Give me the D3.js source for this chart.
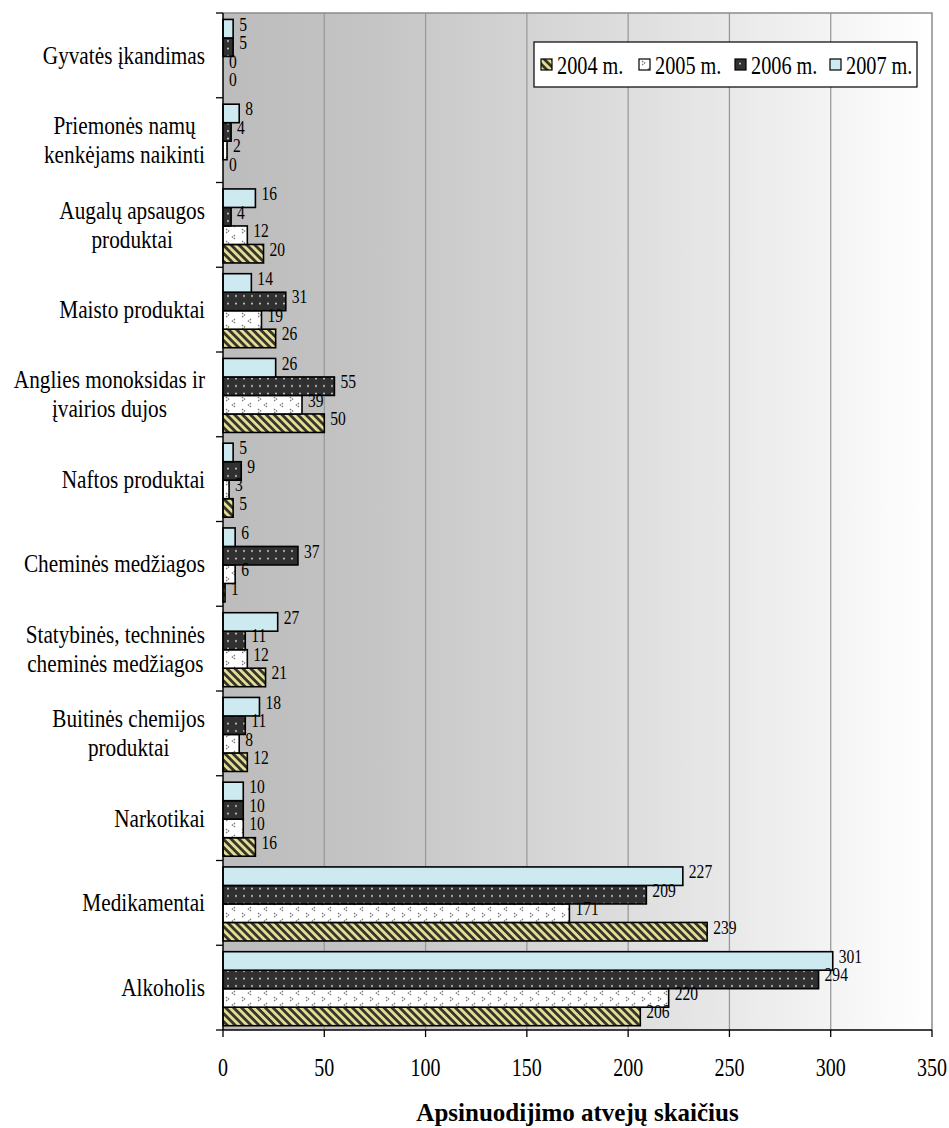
<!DOCTYPE html>
<html>
<head>
<meta charset="utf-8">
<script src="https://cdn.jsdelivr.net/npm/d3@7"></script>
<style>
  html, body { margin: 0; padding: 0; background: #ffffff; }
  svg { display: block; }
  svg text { font-family: "Times New Roman", "Liberation Serif", Tinos, "DejaVu Serif", serif; }
</style>
</head>
<body>
<svg id="chart" width="949" height="1128"></svg>
<script>
// Poisoning cases by cause, 2004–2007
const categories = [
  "Gyvatės įkandimas",
  "Priemonės namų\nkenkėjams naikinti",
  "Augalų apsaugos\nproduktai",
  "Maisto produktai",
  "Anglies monoksidas ir\nįvairios dujos",
  "Naftos produktai",
  "Cheminės medžiagos",
  "Statybinės, techninės\ncheminės medžiagos",
  "Buitinės chemijos\nproduktai",
  "Narkotikai",
  "Medikamentai",
  "Alkoholis"
];
const years = ["2004 m.", "2005 m.", "2006 m.", "2007 m."];
const values2004 = [0, 0, 20, 26, 50, 5, 1, 21, 12, 16, 239, 206];
const values2005 = [0, 2, 12, 19, 39, 3, 6, 12, 8, 10, 171, 220];
const values2006 = [5, 4, 4, 31, 55, 9, 37, 11, 11, 10, 209, 294];
const values2007 = [5, 8, 16, 14, 26, 5, 6, 27, 18, 10, 227, 301];
const xTicks = [0, 50, 100, 150, 200, 250, 300, 350];
const xTitle = "Apsinuodijimo atvejų skaičius";

const seriesValues = [values2004, values2005, values2006, values2007];

const svg = d3.select("#chart");
const plot = { left: 223, right: 932, top: 13, bottom: 1030 };

const x = d3.scaleLinear().domain([0, 350]).range([plot.left, plot.right]);
const y0 = d3.scaleBand().domain(categories).range([plot.top, plot.bottom]).padding(0);
// within a category the newest year is on top
const y1 = d3.scaleBand().domain([...years].reverse())
  .range([0, y0.bandwidth()]).paddingInner(0).paddingOuter(0.29).align(0.6);

// ---- fills ----
const defs = svg.append("defs");

const grad = defs.append("linearGradient").attr("id", "bg")
  .attr("x1", "0%").attr("x2", "100%").attr("y1", "0%").attr("y2", "0%");
grad.append("stop").attr("offset", "0%").attr("stop-color", "#bcbcbc");
grad.append("stop").attr("offset", "20%").attr("stop-color", "#c4c4c4");
grad.append("stop").attr("offset", "55%").attr("stop-color", "#dcdcdc");
grad.append("stop").attr("offset", "100%").attr("stop-color", "#ffffff");

// 2004: diagonal yellow / dark stripes
const p04 = defs.append("pattern").attr("id", "p2004")
  .attr("patternUnits", "userSpaceOnUse").attr("width", 5.6).attr("height", 5.6)
  .attr("patternTransform", "rotate(-45)");
p04.append("rect").attr("width", 5.6).attr("height", 5.6).attr("fill", "#e4de95");
p04.append("rect").attr("width", 2.8).attr("height", 5.6).attr("fill", "#35352c");

// 2005: white with small grey chevrons
const p05 = defs.append("pattern").attr("id", "p2005")
  .attr("patternUnits", "userSpaceOnUse").attr("width", 16).attr("height", 12);
p05.append("rect").attr("width", 16).attr("height", 12).attr("fill", "#ffffff");
p05.append("path").attr("d", "M2,1 L4.5,3 L2,5 M11,7 L8.5,9 L11,11")
  .attr("fill", "none").attr("stroke", "#7a7a7a").attr("stroke-width", 1.4)
  .attr("stroke-dasharray", "1.5 0.9");

// 2006: dark with white dots
const p06 = defs.append("pattern").attr("id", "p2006")
  .attr("patternUnits", "userSpaceOnUse").attr("width", 8).attr("height", 7.5);
p06.append("rect").attr("width", 8).attr("height", 7.5).attr("fill", "#303030");
p06.append("circle").attr("cx", 4).attr("cy", 3.5).attr("r", 1).attr("fill", "#dcdcdc");

const fills = {
  "2004 m.": "url(#p2004)",
  "2005 m.": "url(#p2005)",
  "2006 m.": "url(#p2006)",
  "2007 m.": "#cdeaf0"
};

// ---- plot background and grid ----
svg.append("rect")
  .attr("x", plot.left).attr("y", plot.top)
  .attr("width", plot.right - plot.left).attr("height", plot.bottom - plot.top)
  .attr("fill", "url(#bg)");

svg.append("g").selectAll("line")
  .data(xTicks.filter(d => d > 0 && d < 350))
  .join("line")
  .attr("x1", d => x(d)).attr("x2", d => x(d))
  .attr("y1", plot.top).attr("y2", plot.bottom)
  .attr("stroke", "#9a9a9a").attr("stroke-width", 1.3);

// top and right frame
svg.append("path")
  .attr("d", `M${plot.left},${plot.top}H${plot.right}V${plot.bottom}`)
  .attr("fill", "none").attr("stroke", "#8c8c8c").attr("stroke-width", 1.5);

// ---- bars ----
const rows = [];
categories.forEach((c, i) => {
  years.forEach((yr, s) => rows.push({ cat: c, year: yr, value: seriesValues[s][i] }));
});

const barG = svg.append("g");
barG.selectAll("rect")
  .data(rows.filter(d => d.value > 0))
  .join("rect")
  .attr("x", x(0))
  .attr("y", d => y0(d.cat) + y1(d.year))
  .attr("width", d => x(d.value) - x(0))
  .attr("height", y1.bandwidth())
  .attr("fill", d => fills[d.year])
  .attr("stroke", "#000").attr("stroke-width", 1.6);

// condensed serif text helper
function label(g, txt, tx, ty, size, sx, anchor, weight) {
  return g.append("text")
    .attr("transform", `translate(${tx},${ty}) scale(${sx},1)`)
    .attr("font-size", size)
    .attr("font-weight", weight || "normal")
    .attr("text-anchor", anchor)
    .attr("dominant-baseline", "central")
    .attr("fill", "#000")
    .text(txt);
}

// value labels, sitting slightly above the bar centre
const valG = svg.append("g");
rows.forEach(d => {
  const yc = y0(d.cat) + y1(d.year) + y1.bandwidth() / 2 - 4;
  label(valG, String(d.value), x(d.value) + 6, yc, 19, 0.82, "start");
});

// ---- axes ----
const axG = svg.append("g");
axG.append("line")
  .attr("x1", plot.left).attr("x2", plot.left)
  .attr("y1", plot.top).attr("y2", plot.bottom)
  .attr("stroke", "#000").attr("stroke-width", 1.5);
const bounds = categories.map(c => y0(c)).concat([plot.bottom]);
axG.selectAll("line.yt").data(bounds).join("line").attr("class", "yt")
  .attr("x1", plot.left - 7).attr("x2", plot.left)
  .attr("y1", d => d).attr("y2", d => d)
  .attr("stroke", "#000").attr("stroke-width", 1.3);

axG.append("line")
  .attr("x1", plot.left).attr("x2", plot.right)
  .attr("y1", plot.bottom).attr("y2", plot.bottom)
  .attr("stroke", "#000").attr("stroke-width", 1.5);
axG.selectAll("line.xt").data(xTicks).join("line").attr("class", "xt")
  .attr("x1", d => x(d)).attr("x2", d => x(d))
  .attr("y1", plot.bottom).attr("y2", plot.bottom + 7)
  .attr("stroke", "#000").attr("stroke-width", 1.3);

xTicks.forEach(t => label(axG, String(t), x(t), 1068, 25, 0.8, "middle"));

label(axG, xTitle, (plot.left + plot.right) / 2, 1112, 25, 1.0, "middle", "bold");

// category labels: lines centred on each other, block right-aligned
const catG = svg.append("g");
const catRight = 205, catSize = 25, catSx = 0.85, lineGap = 29;
categories.forEach(c => {
  const lines = c.split("\n");
  const cy = y0(c) + y0.bandwidth() / 2;
  const nodes = lines.map((ln, k) =>
    label(catG, ln, 0, cy + (k - (lines.length - 1) / 2) * lineGap, catSize, catSx, "middle"));
  const widths = nodes.map(n => n.node().getComputedTextLength() * catSx);
  const maxW = Math.max(...widths);
  const cx = catRight - maxW / 2;
  nodes.forEach((n, k) => {
    const ty = cy + (k - (lines.length - 1) / 2) * lineGap;
    n.attr("transform", `translate(${cx},${ty}) scale(${catSx},1)`);
  });
});

// ---- legend ----
const lg = svg.append("g");
lg.append("rect").attr("x", 534).attr("y", 42).attr("width", 383).attr("height", 45)
  .attr("fill", "#ffffff").attr("stroke", "#000").attr("stroke-width", 1.2);
const legendX = [541, 639, 735, 830];
years.forEach((yr, i) => {
  lg.append("rect").attr("x", legendX[i]).attr("y", 59).attr("width", 11).attr("height", 11)
    .attr("fill", fills[yr]).attr("stroke", "#000").attr("stroke-width", 1.2);
  label(lg, yr, legendX[i] + 16, 65, 26, 0.78, "start");
});
</script>
</body>
</html>
